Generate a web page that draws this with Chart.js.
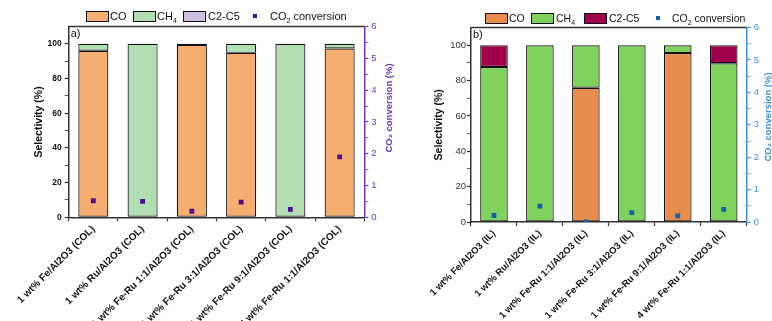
<!DOCTYPE html>
<html>
<head>
<meta charset="utf-8">
<script src="https://cdn.jsdelivr.net/npm/chart.js@4.4.1/dist/chart.umd.min.js"></script>
<style>
  body { margin: 0; background: #fff; font-family: "Liberation Sans", Arial, sans-serif; }
  #wrap { position: relative; width: 772px; height: 321px; overflow: hidden; }
  .panel { position: absolute; top: 0; height: 321px; }
  .lg { position: absolute; font-size: 11px; color: #111; white-space: nowrap; line-height: 12px; }
  .bx { position: absolute; width: 21px; height: 9px; border: 1px solid #111; }
  .mk { position: absolute; width: 4px; height: 4px; }
</style>
</head>
<body>
<div id="wrap">
  <div class="panel" style="left:0;width:400px"><canvas id="chartA"></canvas></div>
  <div class="panel" style="left:386px;width:386px"><canvas id="chartB"></canvas></div>

  <!-- legend a -->
  <div class="bx" style="left:86px;top:11px;background:#F5AD70"></div>
  <div class="lg" style="left:110px;top:10px">CO</div>
  <div class="bx" style="left:133px;top:11px;background:#B2DFB1"></div>
  <div class="lg" style="left:157px;top:10px">CH<sub style="font-size:7px">4</sub></div>
  <div class="bx" style="left:183px;top:11px;background:#CFBFE2"></div>
  <div class="lg" style="left:208px;top:10px">C2-C5</div>
  <div class="mk" style="left:253px;top:14px;background:#4B0C91"></div>
  <div class="lg" style="left:270px;top:10px">CO<sub style="font-size:7px">2</sub> conversion</div>

  <!-- legend b -->
  <div class="bx" style="left:485px;top:13px;background:#E98A4E"></div>
  <div class="lg" style="left:509px;top:12px;font-size:10.5px">CO</div>
  <div class="bx" style="left:531px;top:13px;background:#7FD25B"></div>
  <div class="lg" style="left:556px;top:12px;font-size:10.5px">CH<sub style="font-size:7px">4</sub></div>
  <div class="bx" style="left:584px;top:13px;background:#A1004B"></div>
  <div class="lg" style="left:609px;top:12px;font-size:10.5px">C2-C5</div>
  <div class="mk" style="left:656px;top:16px;background:#0D62A8"></div>
  <div class="lg" style="left:672px;top:12px;font-size:10.5px">CO<sub style="font-size:7px">2</sub> conversion</div>
</div>

<script>
// data
const labelsCOL = [
  "1 wt% Fe/Al2O3 (COL)",
  "1 wt% Ru/Al2O3 (COL)",
  "1 wt% Fe-Ru 1:1/Al2O3 (COL)",
  "1 wt% Fe-Ru 3:1/Al2O3 (COL)",
  "1 wt% Fe-Ru 9:1/Al2O3 (COL)",
  "4 wt% Fe-Ru 1:1/Al2O3 (COL)",
];
const coCOL = [96, null, 99.3, 94.8, null, 97.3];
const ch4COL = [4, 100, null, 5.2, 100, 2.7];
const c2c5COL = [null, null, 0.7, null, null, null];
const convCOL = [0.52, 0.5, 0.19, 0.48, 0.25, 1.9];

const labelsIL = [
  "1 wt% Fe/Al2O3 (IL)",
  "1 wt% Ru/Al2O3 (IL)",
  "1 wt% Fe-Ru 1:1/Al2O3 (IL)",
  "1 wt% Fe-Ru 3:1/Al2O3 (IL)",
  "1 wt% Fe-Ru 9:1/Al2O3 (IL)",
  "4 wt% Fe-Ru 1:1/Al2O3 (IL)",
];
const coIL = [null, null, 76, null, 95.6, null];
const ch4IL = [87.7, 100, 24, 100, 4.4, 89.8];
const c2c5IL = [12.3, null, null, null, null, 10.2];
const convIL = [0.2, 0.49, 0, 0.29, 0.19, 0.39];

const FONT = "'Liberation Sans', Arial, sans-serif";
Chart.defaults.font.family = FONT;

// top frame line, panel letter and right-hand axis title (reads bottom to top)
const panelDecor = {
  id: "panelDecor",
  afterDraw(chart, args, o) {
    const { ctx, chartArea: a } = chart;
    ctx.save();
    ctx.strokeStyle = o.frameColor;
    ctx.lineWidth = 1.5;
    ctx.beginPath();
    ctx.moveTo(a.left, a.top);
    ctx.lineTo(a.right, a.top);
    ctx.stroke();

    ctx.fillStyle = "#111";
    ctx.font = "11px " + FONT;
    ctx.textBaseline = "top";
    ctx.fillText(o.letter, a.left + 2, a.top + 2);

    const s = chart.scales.y2;
    ctx.translate(s.right - o.titleOffset, o.titleY);
    ctx.rotate(-Math.PI / 2);
    ctx.textAlign = "center";
    ctx.textBaseline = "middle";
    ctx.font = "bold 9.5px " + FONT;
    ctx.fillStyle = o.titleColor;
    ctx.fillText(o.title, 0, 0);
    ctx.restore();
  },
};

function makeChart(id, cfg) {
  const canvas = document.getElementById(id);
  canvas.width = cfg.width;
  canvas.height = 321;
  return new Chart(canvas, {
    type: "bar",
    data: {
      labels: cfg.labels,
      datasets: [
        {
          type: "line",
          label: "CO2 conversion",
          data: cfg.conv,
          yAxisID: "y2",
          showLine: false,
          pointStyle: "rect",
          pointRadius: 3.4,
          backgroundColor: cfg.markColor,
          borderColor: cfg.markColor,
          borderWidth: 0,
          order: 0,
        },
        { label: "CO", data: cfg.co, backgroundColor: cfg.colors[0], order: 1 },
        { label: "CH4", data: cfg.ch4, backgroundColor: cfg.colors[1], order: 1 },
        { label: "C2-C5", data: cfg.c2c5, backgroundColor: cfg.colors[2], order: 1 },
      ],
    },
    options: {
      responsive: false,
      animation: false,
      layout: { padding: { top: cfg.top, left: 0, right: 0, bottom: 0 } },
      datasets: {
        bar: {
          borderColor: "#111",
          borderWidth: c => (c.raw ? 1.2 : 0),
          borderSkipped: false,
          categoryPercentage: 1,
          barPercentage: cfg.barPct,
        },
      },
      plugins: {
        legend: { display: false },
        tooltip: { enabled: false },
        panelDecor: {
          frameColor: "#333",
          letter: cfg.letter,
          title: "CO\u2082 conversion (%)",
          titleColor: cfg.axisColor2,
          titleOffset: cfg.titleOffset,
          titleY: cfg.titleY,
        },
      },
      scales: {
        x: {
          stacked: true,
          border: { color: "#333", width: 1.5 },
          grid: { drawOnChartArea: false, tickLength: 4, tickColor: "#333", tickWidth: 1.2 },
          ticks: {
            color: "#111",
            font: { size: cfg.xFont, weight: "bold" },
            maxRotation: 45,
            minRotation: 45,
            autoSkip: false,
            padding: 2,
          },
          afterFit: s => { s.height = cfg.xHeight; },
        },
        y: {
          stacked: true,
          min: 0,
          max: 110,
          border: { color: "#333", width: 1.5 },
          grid: {
            drawOnChartArea: false,
            tickLength: 4,
            tickColor: c => (c.tick && c.tick.value > 100 ? "rgba(0,0,0,0)" : "#333"),
            tickWidth: c => (c.tick && c.tick.value % 20 === 0 ? 1.2 : 0.8),
          },
          ticks: {
            stepSize: 10,
            color: cfg.yTickColor,
            font: { size: cfg.yFont, weight: cfg.yWeight },
            padding: cfg.yPad,
            callback: v => (v % 20 === 0 && v <= 100 ? v : ""),
          },
          title: {
            display: true,
            text: "Selectivity (%)",
            color: "#111",
            font: { size: 10.5, weight: "bold" },
            padding: { top: cfg.yTitlePad, bottom: 0 },
          },
          afterFit: s => { s.width = cfg.yWidth; },
        },
        y2: {
          position: "right",
          min: 0,
          max: 6,
          border: { color: cfg.axisColor2, width: 1.5 },
          grid: {
            drawOnChartArea: false,
            tickLength: 4,
            tickColor: cfg.axisColor2,
            tickWidth: c => (c.tick && Number.isInteger(c.tick.value) ? 1.2 : 0.8),
          },
          ticks: {
            stepSize: 0.5,
            color: cfg.axisColor2,
            font: { size: 9.5 },
            padding: 3,
            callback: v => (Number.isInteger(v) ? v : ""),
          },
          afterFit: s => { s.width = cfg.y2Width; },
        },
      },
    },
    plugins: [panelDecor],
  });
}

makeChart("chartA", {
  width: 400,
  labels: labelsCOL,
  co: coCOL,
  ch4: ch4COL,
  c2c5: c2c5COL,
  conv: convCOL,
  colors: ["#F5AD70", "#B2DFB1", "#CFBFE2"],
  markColor: "#4B0C91",
  axisColor2: "#6B34C4",
  letter: "a)",
  top: 26.5,
  xHeight: 103.7,
  yWidth: 68.7,
  y2Width: 35.7,
  yTitlePad: 33,
  yFont: 8.5,
  yWeight: "bold",
  yTickColor: "#111",
  yPad: 3,
  xFont: 10,
  barPct: 0.61,
  titleOffset: 11,
  titleY: 108,
});

makeChart("chartB", {
  width: 386,
  labels: labelsIL,
  co: coIL,
  ch4: ch4IL,
  c2c5: c2c5IL,
  conv: convIL,
  colors: ["#E98A4E", "#7FD25B", "#A1004B"],
  markColor: "#0D62A8",
  axisColor2: "#3F93D3",
  letter: "b)",
  top: 27.6,
  xHeight: 99,
  yWidth: 85,
  y2Width: 25.3,
  yTitlePad: 47,
  yFont: 9.5,
  yWeight: "normal",
  yTickColor: "#333",
  yPad: 1,
  xFont: 9.5,
  barPct: 0.6,
  titleOffset: 4,
  titleY: 117,
});
</script>
</body>
</html>
